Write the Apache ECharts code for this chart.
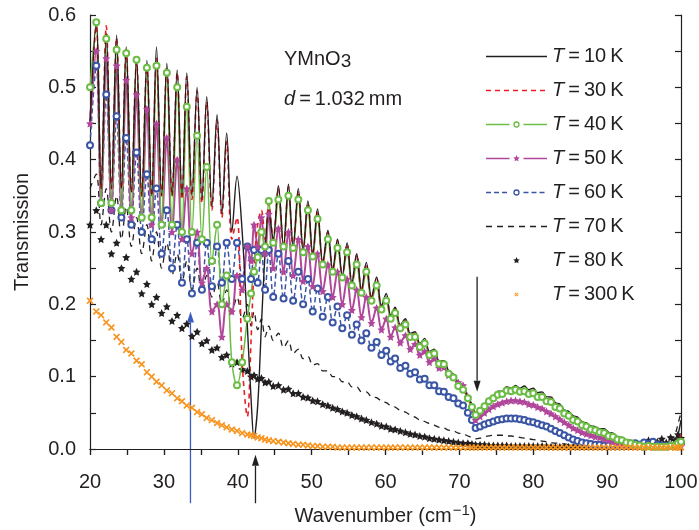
<!DOCTYPE html>
<html>
<head>
<meta charset="utf-8">
<script src="https://cdn.jsdelivr.net/npm/echarts@6/dist/echarts.min.js"></script>
<style>
  html, body { margin: 0; padding: 0; background: #fff; }
  #chart { width: 699px; height: 530px; }
</style>
</head>
<body>
<div id="chart"></div>
<script>
/* ------------------------------------------------------------------ */
/*  Transmission of YMnO3 (d = 1.032 mm) at several temperatures       */
/* ------------------------------------------------------------------ */

// wavenumber samples (cm-1), roughly at the fringe maxima / minima
const wn = [
  20.0, 20.85, 21.5, 22.2, 22.9, 23.6, 24.25, 24.9, 25.6, 26.3, 27.0, 27.7, 28.35, 29.0, 29.7,
  30.4, 31.1, 31.8, 32.45, 33.1, 33.8, 34.5, 35.15, 35.8, 36.5, 37.2, 37.85, 38.5, 39.2, 39.9,
  40.6, 41.3, 41.8, 42.2, 42.7, 43.2, 43.7, 44.2, 44.8, 45.5,
  46.2, 46.86, 47.5, 48.2, 48.85, 49.5, 50.15, 50.8, 51.5, 52.2,
  52.85, 53.5, 54.15, 54.8, 55.45, 56.1, 56.75, 57.4, 58.1, 58.8,
  59.45, 60.1, 60.7, 61.3, 62.0, 62.7, 63.35, 64.0, 64.65, 65.3,
  65.95, 66.6, 67.25, 67.9, 68.55, 69.2, 69.85, 70.5, 71.15, 71.7,
  72.2,
  72.8, 73.4, 74.0, 74.6, 75.2, 75.8, 76.4, 77.0, 77.6, 78.2,
  78.8, 79.4, 80.0, 80.6, 81.2, 81.8, 82.4, 83.0, 83.6, 84.2,
  84.8, 85.4, 86.0, 86.6, 87.2, 87.8, 88.4, 89.0, 89.6, 90.2,
  90.8, 91.4, 92.0, 92.6, 93.2, 93.8, 94.4, 95.0, 95.6, 96.2,
  96.8, 97.4, 98.0, 98.6, 99.2, 99.6, 100.0
];

const t10 = [
  0.45, 0.59, 0.36, 0.575, 0.36, 0.572, 0.36, 0.556, 0.355, 0.54, 0.35, 0.537, 0.35, 0.556, 0.35,
  0.533, 0.35, 0.524, 0.35, 0.52, 0.35, 0.50, 0.345, 0.487, 0.335, 0.462, 0.325, 0.437, 0.30, 0.377,
  0.30, 0.17, 0.07, 0.015, 0.06, 0.17, 0.27, 0.33, 0.29, 0.364,
  0.28, 0.366, 0.28, 0.36, 0.275, 0.343, 0.27, 0.332, 0.258, 0.302,
  0.248, 0.29, 0.24, 0.285, 0.23, 0.27, 0.22, 0.258, 0.21, 0.238,
  0.198, 0.215, 0.185, 0.196, 0.172, 0.18, 0.16, 0.162, 0.146, 0.153,
  0.135, 0.138, 0.122, 0.122, 0.108, 0.103, 0.09, 0.086, 0.072, 0.062,
  0.05,
  0.056, 0.062, 0.07, 0.074, 0.08, 0.08, 0.086, 0.084, 0.088, 0.084,
  0.087, 0.082, 0.084, 0.078, 0.079, 0.072, 0.072, 0.064, 0.062, 0.054,
  0.052, 0.046, 0.044, 0.038, 0.036, 0.032, 0.031, 0.028, 0.028, 0.023,
  0.022, 0.017, 0.016, 0.012, 0.012, 0.008, 0.007, 0.004, 0.005, 0.003,
  0.004, 0.003, 0.005, 0.003, 0.008, 0.02, 0.04
];

const t30 = [
  0.45, 0.585, 0.36, 0.585, 0.36, 0.568, 0.36, 0.552, 0.355, 0.536, 0.35, 0.532, 0.35, 0.54, 0.35,
  0.528, 0.35, 0.52, 0.345, 0.515, 0.345, 0.495, 0.34, 0.48, 0.33, 0.455, 0.32, 0.425, 0.29, 0.32,
  0.12, 0.045, 0.15, 0.25, 0.31, 0.33, 0.29, 0.34, 0.29, 0.36,
  0.278, 0.362, 0.278, 0.357, 0.273, 0.34, 0.268, 0.33, 0.256, 0.3,
  0.246, 0.288, 0.238, 0.283, 0.228, 0.268, 0.218, 0.256, 0.208, 0.236,
  0.196, 0.213, 0.183, 0.194, 0.17, 0.178, 0.158, 0.16, 0.144, 0.151,
  0.133, 0.136, 0.12, 0.12, 0.106, 0.101, 0.088, 0.084, 0.07, 0.06,
  0.049,
  0.054, 0.06, 0.068, 0.072, 0.078, 0.078, 0.084, 0.082, 0.086, 0.082,
  0.085, 0.08, 0.082, 0.076, 0.077, 0.07, 0.07, 0.062, 0.06, 0.052,
  0.05, 0.044, 0.042, 0.036, 0.034, 0.03, 0.029, 0.026, 0.026, 0.021,
  0.02, 0.015, 0.014, 0.01, 0.01, 0.007, 0.006, 0.004, 0.004, 0.003,
  0.003, 0.003, 0.004, 0.003, 0.006, 0.012, 0.02
];

const t40 = [
  0.5, 0.59, 0.34, 0.567, 0.34, 0.552, 0.33, 0.547, 0.33, 0.538, 0.32, 0.527, 0.32, 0.53, 0.31,
  0.52, 0.31, 0.50, 0.30, 0.473, 0.30, 0.433, 0.29, 0.39, 0.26, 0.31, 0.2, 0.24, 0.12, 0.088,
  0.12, 0.18, 0.215, 0.245, 0.265, 0.3, 0.28, 0.343, 0.285, 0.345,
  0.28, 0.35, 0.278, 0.345, 0.272, 0.33, 0.266, 0.318, 0.255, 0.29,
  0.245, 0.278, 0.237, 0.272, 0.226, 0.255, 0.216, 0.245, 0.205, 0.226,
  0.193, 0.205, 0.18, 0.188, 0.167, 0.172, 0.155, 0.155, 0.141, 0.146,
  0.13, 0.132, 0.118, 0.117, 0.104, 0.099, 0.087, 0.082, 0.07, 0.058,
  0.047,
  0.053, 0.059, 0.066, 0.07, 0.075, 0.076, 0.081, 0.08, 0.082, 0.079,
  0.08, 0.076, 0.077, 0.072, 0.072, 0.066, 0.065, 0.058, 0.056, 0.049,
  0.046, 0.04, 0.038, 0.033, 0.031, 0.027, 0.026, 0.023, 0.022, 0.018,
  0.017, 0.013, 0.012, 0.009, 0.008, 0.006, 0.005, 0.003, 0.004, 0.003,
  0.003, 0.003, 0.003, 0.004, 0.005, 0.008, 0.01
];

const t50 = [
  0.45, 0.55, 0.34, 0.54, 0.33, 0.53, 0.33, 0.51, 0.32, 0.49, 0.32, 0.47, 0.31, 0.45, 0.31,
  0.43, 0.3, 0.40, 0.29, 0.36, 0.27, 0.3, 0.23, 0.25, 0.19, 0.2, 0.155, 0.2, 0.19, 0.24,
  0.22, 0.28, 0.26, 0.31, 0.28, 0.32, 0.27, 0.325, 0.25, 0.305,
  0.245, 0.3, 0.24, 0.29, 0.232, 0.28, 0.225, 0.27, 0.218, 0.255,
  0.21, 0.245, 0.2, 0.235, 0.192, 0.22, 0.182, 0.21, 0.174, 0.195,
  0.165, 0.18, 0.155, 0.168, 0.147, 0.157, 0.138, 0.145, 0.13, 0.135,
  0.12, 0.125, 0.112, 0.113, 0.102, 0.1, 0.092, 0.088, 0.072, 0.056,
  0.04,
  0.045, 0.05, 0.055, 0.059, 0.062, 0.064, 0.066, 0.067, 0.067, 0.066,
  0.065, 0.062, 0.061, 0.058, 0.056, 0.052, 0.049, 0.045, 0.041, 0.037,
  0.033, 0.029, 0.026, 0.023, 0.021, 0.019, 0.017, 0.016, 0.014, 0.012,
  0.01, 0.008, 0.006, 0.005, 0.004, 0.003, 0.003, 0.003, 0.003, 0.003,
  0.003, 0.003, 0.003, 0.003, 0.004, 0.004, 0.005
];

const t60 = [
  0.42, 0.53, 0.34, 0.49, 0.33, 0.46, 0.32, 0.43, 0.31, 0.41, 0.3, 0.38, 0.29, 0.36, 0.27,
  0.33, 0.25, 0.31, 0.23, 0.29, 0.215, 0.285, 0.22, 0.285, 0.225, 0.28, 0.23, 0.285, 0.235, 0.285,
  0.235, 0.28, 0.235, 0.275, 0.23, 0.275, 0.22, 0.275, 0.21, 0.27,
  0.208, 0.26, 0.205, 0.245, 0.2, 0.235, 0.19, 0.222, 0.183, 0.21,
  0.175, 0.197, 0.167, 0.185, 0.158, 0.172, 0.15, 0.16, 0.14, 0.148,
  0.13, 0.136, 0.121, 0.125, 0.112, 0.115, 0.104, 0.106, 0.096, 0.097,
  0.088, 0.088, 0.08, 0.079, 0.072, 0.07, 0.063, 0.06, 0.05, 0.04,
  0.029,
  0.031, 0.034, 0.036, 0.038, 0.04, 0.041, 0.042, 0.042, 0.042, 0.041,
  0.04, 0.038, 0.037, 0.035, 0.033, 0.031, 0.028, 0.025, 0.022, 0.019,
  0.016, 0.013, 0.011, 0.009, 0.008, 0.007, 0.006, 0.006, 0.005, 0.005,
  0.004, 0.004, 0.004, 0.005, 0.006, 0.008, 0.006, 0.009, 0.007, 0.01,
  0.006, 0.005, 0.004, 0.004, 0.005, 0.006, 0.008
];

const t70 = [
  0.36, 0.38, 0.31, 0.36, 0.3, 0.35, 0.29, 0.335, 0.28, 0.32, 0.27, 0.31, 0.26, 0.3, 0.25,
  0.285, 0.24, 0.27, 0.23, 0.26, 0.22, 0.25, 0.215, 0.24, 0.21, 0.23, 0.2, 0.22, 0.19, 0.21,
  0.18, 0.2, 0.17, 0.19, 0.165, 0.18, 0.155, 0.17, 0.15, 0.16,
  0.14, 0.15, 0.132, 0.138, 0.125, 0.128, 0.116, 0.118, 0.108, 0.108,
  0.1, 0.1, 0.093, 0.093, 0.086, 0.086, 0.079, 0.079, 0.072, 0.071,
  0.066, 0.064, 0.06, 0.058, 0.053, 0.051, 0.047, 0.044, 0.04, 0.038,
  0.035, 0.033, 0.03, 0.029, 0.026, 0.025, 0.022, 0.021, 0.018, 0.016,
  0.014,
  0.015, 0.017, 0.018, 0.019, 0.019, 0.019, 0.018, 0.018, 0.017, 0.016,
  0.015, 0.014, 0.013, 0.012, 0.011, 0.01, 0.009, 0.008, 0.008, 0.007,
  0.006, 0.006, 0.005, 0.005, 0.005, 0.005, 0.004, 0.004, 0.004, 0.004,
  0.004, 0.004, 0.004, 0.004, 0.004, 0.004, 0.004, 0.004, 0.004, 0.004,
  0.004, 0.004, 0.005, 0.01, 0.02, 0.035, 0.05
];

const t80 = [
  0.31, 0.33, 0.29, 0.31, 0.27, 0.285, 0.25, 0.265, 0.235, 0.245, 0.215, 0.228, 0.2, 0.21, 0.188,
  0.197, 0.177, 0.185, 0.167, 0.173, 0.156, 0.162, 0.146, 0.15, 0.137, 0.14, 0.127, 0.13, 0.118, 0.12,
  0.11, 0.108, 0.1, 0.102, 0.097, 0.098, 0.092, 0.093, 0.087, 0.088,
  0.082, 0.083, 0.077, 0.077, 0.072, 0.071, 0.067, 0.066, 0.062, 0.06,
  0.057, 0.055, 0.052, 0.05, 0.047, 0.045, 0.042, 0.04, 0.037, 0.035,
  0.032, 0.031, 0.028, 0.027, 0.025, 0.023, 0.021, 0.02, 0.018, 0.017,
  0.015, 0.014, 0.013, 0.012, 0.011, 0.01, 0.009, 0.008, 0.008, 0.007,
  0.006,
  0.006, 0.006, 0.005, 0.005, 0.005, 0.005, 0.005, 0.004, 0.004, 0.004,
  0.004, 0.004, 0.004, 0.004, 0.004, 0.004, 0.003, 0.003, 0.003, 0.003,
  0.003, 0.003, 0.003, 0.003, 0.003, 0.003, 0.003, 0.003, 0.003, 0.003,
  0.003, 0.003, 0.003, 0.004, 0.004, 0.005, 0.006, 0.008, 0.012, 0.008,
  0.01, 0.014, 0.009, 0.016, 0.012, 0.02, 0.015
];

const t300 = [
  0.205, 0.19, 0.185, 0.175, 0.168, 0.155, 0.148, 0.137, 0.132, 0.122, 0.117, 0.106, 0.1, 0.093, 0.088,
  0.081, 0.077, 0.07, 0.066, 0.06, 0.057, 0.051, 0.048, 0.043, 0.04, 0.036, 0.033, 0.03, 0.027, 0.025,
  0.022, 0.02, 0.019, 0.018, 0.016, 0.015, 0.013, 0.012, 0.011, 0.01,
  0.009, 0.008, 0.007, 0.006, 0.006, 0.005, 0.004, 0.004, 0.003, 0.003,
  0.003, 0.002, 0.002, 0.002, 0.002, 0.002, 0.002, 0.002, 0.002, 0.002,
  0.002, 0.002, 0.002, 0.002, 0.002, 0.002, 0.002, 0.002, 0.002, 0.002,
  0.002, 0.002, 0.002, 0.002, 0.002, 0.002, 0.002, 0.002, 0.002, 0.002,
  0.002,
  0.002, 0.002, 0.002, 0.002, 0.002, 0.002, 0.002, 0.002, 0.002, 0.002,
  0.002, 0.002, 0.002, 0.002, 0.002, 0.002, 0.002, 0.002, 0.002, 0.002,
  0.002, 0.002, 0.002, 0.002, 0.002, 0.002, 0.002, 0.002, 0.002, 0.002,
  0.002, 0.002, 0.002, 0.002, 0.002, 0.002, 0.002, 0.002, 0.002, 0.002,
  0.002, 0.002, 0.002, 0.002, 0.002, 0.002, 0.002
];

const temps = ['10', '30', '40', '50', '60', '70', '80', '300'];

// arrows: wavenumber, start and end transmission
const arrowX = [33.6, 42.4, 72.4];
const arrowFrom = [-0.075, -0.075, 0.238];
const arrowTo = [0.19, -0.008, 0.079];

const FONT = "'Liberation Sans', Arial, Helvetica, sans-serif";
const INK = '#231f20';
const RED = '#ed1c24';
const GREEN = '#6cbd45';
const MAGENTA = '#b0479a';
const BLUE = '#3a55a4';
const ORANGE = '#f7941d';

// marker outlines (unit shapes)
const STAR_PTS = [[0, -10], [2.9, -4], [9.5, -3.1], [4.7, 1.5], [5.9, 8.1], [0, 5],
  [-5.9, 8.1], [-4.7, 1.5], [-9.5, -3.1], [-2.9, -4]];
const CROSS_PTS = [[-6, -4], [-4, -6], [0, -2], [4, -6], [6, -4], [2, 0], [6, 4], [4, 6],
  [0, 2], [-4, 6], [-6, 4], [-2, 0]];
const toPath = pts => 'path://M' + pts.map(p => p.join(',')).join('L') + 'Z';
const STAR = toPath(STAR_PTS);
const CROSS = toPath(CROSS_PTS);

const pairs = ys => wn.map((x, i) => [x, ys[i]]);

const lineSeries = (name, ys, color, opts) => Object.assign({
  type: 'line',
  name,
  data: pairs(ys),
  symbol: 'none',
  showAllSymbol: true,
  smooth: 0.35,
  animation: false,
  lineStyle: { color, width: 1.3 },
  itemStyle: { color },
}, opts);

const dotSeries = (name, ys, color, symbol, size) => ({
  type: 'scatter',
  name,
  data: pairs(ys),
  symbol,
  symbolSize: size,
  animation: false,
  itemStyle: { color, opacity: 1 },
});

const chart = echarts.init(document.getElementById('chart'));

const axisCommon = {
  type: 'value',
  axisLine: { lineStyle: { color: INK, width: 1.2 } },
  splitLine: { show: false },
  minorSplitLine: { show: false },
};
const tickStyle = { color: INK, width: 1.2 };

chart.setOption({
  animation: false,
  grid: { left: 90, right: 18, top: 15, bottom: 81, outerBoundsMode: 'none', containLabel: false },
  xAxis: [
    Object.assign({}, axisCommon, {
      min: 20, max: 100, interval: 10,
      position: 'bottom',
      axisTick: { inside: false, length: 6, lineStyle: tickStyle },
      minorTick: { show: true, splitNumber: 2, length: 6, lineStyle: tickStyle },
      axisLabel: { color: INK, fontSize: 20, fontFamily: FONT, margin: 23 },
      name: 'Wavenumber (cm{sup|\u22121})',
      nameLocation: 'middle',
      nameGap: 54,
      nameTextStyle: {
        color: INK, fontSize: 20, fontFamily: FONT, lineHeight: 26,
        rich: { sup: { fontSize: 15, fontFamily: FONT, color: INK, verticalAlign: 'top', lineHeight: 26, padding: [0, 0, 10, 1] } },
      },
    }),
    Object.assign({}, axisCommon, {
      min: 20, max: 100, interval: 10,
      position: 'top',
      axisTick: { inside: true, length: 6, lineStyle: tickStyle },
      minorTick: { show: true, splitNumber: 2, length: 6, lineStyle: tickStyle },
      axisLabel: { show: false },
    }),
  ],
  yAxis: [
    Object.assign({}, axisCommon, {
      min: 0, max: 0.6, interval: 0.1,
      position: 'left',
      axisTick: { inside: true, length: 6, lineStyle: tickStyle },
      minorTick: { show: true, splitNumber: 2, length: 6, lineStyle: tickStyle },
      axisLabel: { color: INK, fontSize: 20, fontFamily: FONT, margin: 14, formatter: v => v.toFixed(1) },
      name: 'Transmission',
      nameLocation: 'middle',
      nameGap: 58,
      nameTextStyle: { color: INK, fontSize: 20, fontFamily: FONT },
    }),
    Object.assign({}, axisCommon, {
      min: 0, max: 0.6, interval: 0.1,
      position: 'right',
      axisTick: { inside: true, length: 6, lineStyle: tickStyle },
      minorTick: { show: true, splitNumber: 2, length: 6, lineStyle: tickStyle },
      axisLabel: { show: false },
    }),
  ],
  series: [
    Object.assign(dotSeries('300', t300, ORANGE, CROSS, 7), { z: 5 }),
    dotSeries('80', t80, INK, STAR, 8),
    lineSeries('70', t70, INK, {
      lineStyle: { color: INK, width: 1.3, type: [6, 5] },
    }),
    lineSeries('60', t60, BLUE, {
      symbol: 'emptyCircle', symbolSize: 6,
      lineStyle: { color: BLUE, width: 1.5, type: [5, 3] },
      itemStyle: { color: BLUE, borderWidth: 1.5 },
    }),
    lineSeries('50', t50, MAGENTA, {
      symbol: STAR, symbolSize: 8,
      lineStyle: { color: MAGENTA, width: 2 },
    }),
    lineSeries('40', t40, GREEN, {
      symbol: 'emptyCircle', symbolSize: 6,
      lineStyle: { color: GREEN, width: 1.5 },
      itemStyle: { color: GREEN, borderWidth: 1.5 },
    }),
    lineSeries('30', t30, RED, {
      lineStyle: { color: RED, width: 1.6, type: [5, 4] },
    }),
    lineSeries('10', t10, INK, {
      lineStyle: { color: INK, width: 1.4 },
    }),
  ],
});

// legend, drawn by hand so each key looks like the printed one
const keyLook = [
  { color: INK, dash: 'solid' },
  { color: RED, dash: [5, 4] },
  { color: GREEN, dash: 'solid', mark: 'circle' },
  { color: MAGENTA, dash: 'solid', mark: 'star' },
  { color: BLUE, dash: [5, 3], mark: 'circle' },
  { color: INK, dash: [6, 5] },
  { color: INK, mark: 'star' },
  { color: ORANGE, mark: 'cross' },
];
const keyLeft = 486;
const keyRight = 547;
const keyMid = (keyLeft + keyRight) / 2;
const legendEls = [];
temps.forEach((t, i) => {
  const k = keyLook[i];
  const y = 56.5 + i * 34;
  if (k.dash) {
    const segs = k.mark ? [[keyLeft, keyMid - 7], [keyMid + 7, keyRight]] : [[keyLeft, keyRight]];
    segs.forEach(([a, b]) => legendEls.push({
      type: 'line',
      shape: { x1: a, y1: y, x2: b, y2: y },
      style: { stroke: k.color, lineWidth: 1.5, lineDash: k.dash === 'solid' ? null : k.dash },
    }));
  }
  if (k.mark === 'circle') {
    legendEls.push({
      type: 'circle', shape: { cx: keyMid, cy: y, r: 2.5 },
      style: { fill: '#fff', stroke: k.color, lineWidth: 1.3 },
    });
  } else if (k.mark) {
    const pts = k.mark === 'star' ? STAR_PTS : CROSS_PTS;
    legendEls.push({
      type: 'polygon',
      shape: { points: pts.map(([px, py]) => [keyMid + px * 0.34, y + py * 0.34]) },
      style: { fill: k.color },
    });
  }
  legendEls.push({
    type: 'text', x: 552, y,
    style: {
      text: '{i|T}\u2009=\u2009' + t + '\u2009K',
      fontSize: 20, fontFamily: FONT, fill: INK, verticalAlign: 'middle',
      rich: { i: { fontStyle: 'italic', fontSize: 20, fontFamily: FONT, fill: INK } },
    },
  });
});

// annotations and arrows, placed through the axes
const toPx = (x, y) => chart.convertToPixel({ xAxisIndex: 0, yAxisIndex: 0 }, [x, y]);
const arrowColor = ['#3d5cc0', INK, INK];
const arrows = [];
arrowX.forEach((x, i) => {
  const [px, a] = toPx(x, arrowFrom[i]);
  const b = toPx(x, arrowTo[i])[1];
  const dir = b > a ? 1 : -1;
  const head = 11;
  const half = 3.5;
  arrows.push({
    type: 'line',
    shape: { x1: px, y1: a, x2: px, y2: b - dir * head },
    style: { stroke: arrowColor[i], lineWidth: 1.3 },
  });
  arrows.push({
    type: 'polygon',
    shape: { points: [[px, b], [px - half, b - dir * head], [px + half, b - dir * head]] },
    style: { fill: arrowColor[i] },
  });
});

chart.setOption({
  graphic: [
    {
      type: 'text', x: 284, y: 47,
      style: {
        text: 'YMnO{sub|3}',
        fontSize: 20, fontFamily: FONT, fill: INK, lineHeight: 24,
        rich: { sub: { fontSize: 19, fontFamily: FONT, fill: INK, verticalAlign: 'bottom', lineHeight: 24, padding: [12, 0, 0, 0] } },
      },
    },
    {
      type: 'text', x: 284, y: 89,
      style: {
        text: '{i|d}\u2009=\u20091.032\u2009mm',
        fontSize: 20, fontFamily: FONT, fill: INK,
        rich: { i: { fontStyle: 'italic', fontSize: 20, fontFamily: FONT, fill: INK } },
      },
    },
  ].concat(legendEls, arrows),
});
</script>
</body>
</html>
